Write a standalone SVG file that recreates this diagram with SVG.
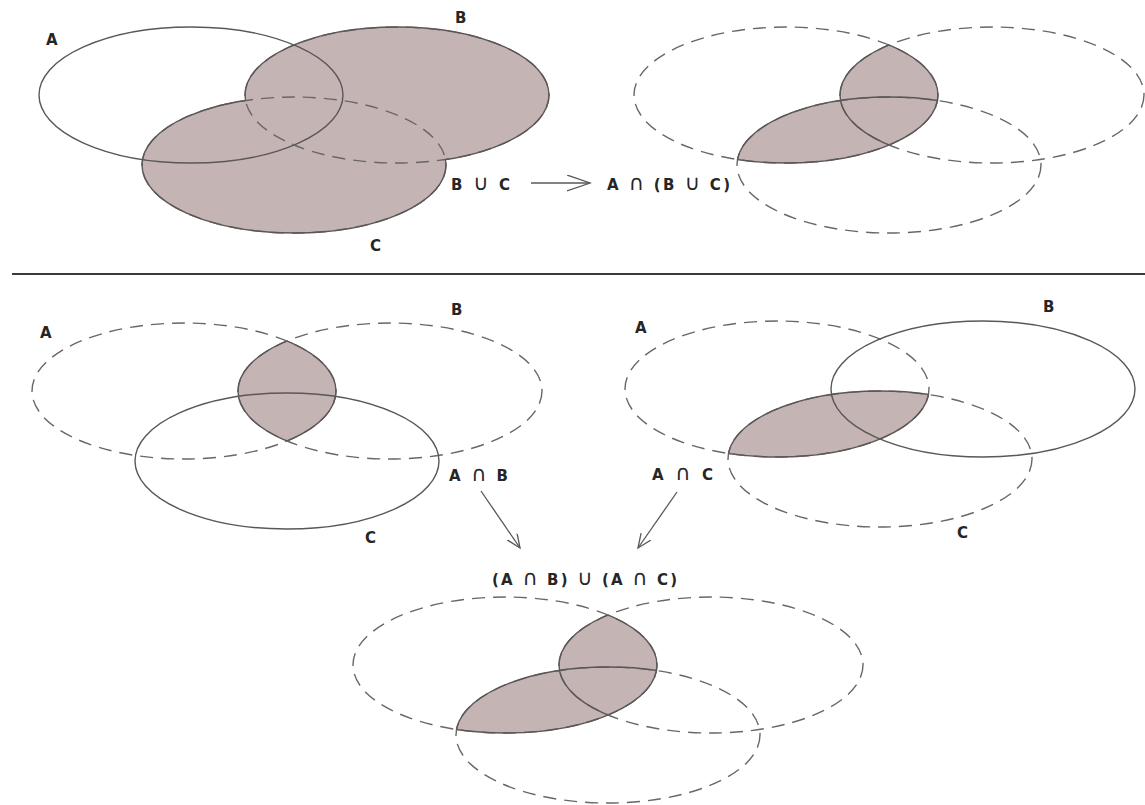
<svg xmlns="http://www.w3.org/2000/svg" xmlns:xlink="http://www.w3.org/1999/xlink" width="1145" height="805" viewBox="0 0 1145 805">
<style>
.solid{fill:none;stroke:#5b5757;stroke-width:1.4}
.dash{fill:none;stroke:#6a6666;stroke-width:1.4;stroke-dasharray:13 8}
.shade{fill:#c4b5b4;stroke:none}
.lbl{font-family:"DejaVu Sans","Liberation Sans",sans-serif;font-size:15px;font-weight:bold;fill:#262626}
.sym{font-size:21px;font-weight:normal}
.conn{fill:none;stroke:#5b5757;stroke-width:1.3}
</style>
<defs>
<ellipse id="A" cx="0" cy="0" rx="152" ry="68"/>
<ellipse id="B" cx="206" cy="0" rx="152" ry="68"/>
<ellipse id="C" cx="103" cy="70" rx="152" ry="68"/>
<clipPath id="cA"><ellipse cx="0" cy="0" rx="152" ry="68"/></clipPath>
<clipPath id="cB"><ellipse cx="206" cy="0" rx="152" ry="68"/></clipPath>
<clipPath id="cC"><ellipse cx="103" cy="70" rx="152" ry="68"/></clipPath>
<clipPath id="cBC"><ellipse cx="206" cy="0" rx="152" ry="68"/><ellipse cx="103" cy="70" rx="152" ry="68"/></clipPath>
<clipPath id="nB"><path clip-rule="evenodd" d="M-300,-200 H600 V300 H-300 Z M54,0 a152,68 0 1,0 304,0 a152,68 0 1,0 -304,0 Z"/></clipPath>
<clipPath id="nC"><path clip-rule="evenodd" d="M-300,-200 H600 V300 H-300 Z M-49,70 a152,68 0 1,0 304,0 a152,68 0 1,0 -304,0 Z"/></clipPath>
<marker id="arrBig" markerUnits="userSpaceOnUse" markerWidth="26" markerHeight="18" refX="23" refY="8" orient="auto"><path d="M0,0 L23,8 L0,16" fill="none" stroke="#5b5757" stroke-width="1.3"/></marker>
<marker id="arr" markerUnits="userSpaceOnUse" markerWidth="18" markerHeight="14" refX="14" refY="6" orient="auto"><path d="M0,0 L14,6 L0,12" fill="none" stroke="#5b5757" stroke-width="1.3"/></marker>
</defs>
<rect x="0" y="0" width="1145" height="805" fill="#ffffff"/>
<line x1="12" y1="274" x2="1145" y2="274" stroke="#3a3a3a" stroke-width="2.2"/>

<g id="venn-union" transform="translate(191,95)">
<use href="#B" class="shade"/><use href="#C" class="shade"/>
<use href="#A" class="solid"/>
<use href="#B" class="dash"/><use href="#B" class="solid" clip-path="url(#nC)"/>
<use href="#C" class="dash"/><use href="#C" class="solid" clip-path="url(#nB)"/>
</g>
<g id="venn-a-int-union" transform="translate(786,95)">
<g clip-path="url(#cA)"><use href="#B" class="shade"/><use href="#C" class="shade"/></g>
<use href="#A" class="dash"/><use href="#A" class="solid" clip-path="url(#cBC)"/>
<use href="#B" class="dash"/><use href="#B" class="solid" clip-path="url(#cA)"/>
<use href="#C" class="dash"/><use href="#C" class="solid" clip-path="url(#cA)"/>
</g>
<g id="venn-a-int-b" transform="translate(184,391)">
<g clip-path="url(#cA)"><use href="#B" class="shade"/></g>
<use href="#A" class="dash"/><use href="#A" class="solid" clip-path="url(#cB)"/>
<use href="#B" class="dash"/><use href="#B" class="solid" clip-path="url(#cA)"/>
<use href="#C" class="solid"/>
</g>
<g id="venn-a-int-c" transform="translate(777,389)">
<g clip-path="url(#cA)"><use href="#C" class="shade"/></g>
<use href="#A" class="dash"/><use href="#A" class="solid" clip-path="url(#cC)"/>
<use href="#C" class="dash"/><use href="#C" class="solid" clip-path="url(#cA)"/>
<use href="#B" class="solid"/>
</g>
<g id="venn-result" transform="translate(505,665)">
<g clip-path="url(#cA)"><use href="#B" class="shade"/><use href="#C" class="shade"/></g>
<use href="#A" class="dash"/><use href="#A" class="solid" clip-path="url(#cBC)"/>
<use href="#B" class="dash"/><use href="#B" class="solid" clip-path="url(#cA)"/>
<use href="#C" class="dash"/><use href="#C" class="solid" clip-path="url(#cA)"/>
</g>

<g id="labels">
<text class="lbl" x="46" y="45">A</text>
<text class="lbl" x="455" y="23">B</text>
<text class="lbl" x="370" y="251">C</text>
<text class="lbl" x="451" y="190" textLength="59" lengthAdjust="spacing">B <tspan class="sym">∪</tspan> C</text>
<text class="lbl" x="607" y="190" textLength="123" lengthAdjust="spacing">A <tspan class="sym">∩</tspan> (B <tspan class="sym">∪</tspan> C)</text>
<text class="lbl" x="40" y="338">A</text>
<text class="lbl" x="451" y="315">B</text>
<text class="lbl" x="365" y="543">C</text>
<text class="lbl" x="449" y="481" textLength="59" lengthAdjust="spacing">A <tspan class="sym">∩</tspan> B</text>
<text class="lbl" x="635" y="333">A</text>
<text class="lbl" x="1043" y="312">B</text>
<text class="lbl" x="957" y="538">C</text>
<text class="lbl" x="652" y="480" textLength="61" lengthAdjust="spacing">A <tspan class="sym">∩</tspan> C</text>
<text class="lbl" x="492" y="585" textLength="185" lengthAdjust="spacing">(A <tspan class="sym">∩</tspan> B) <tspan class="sym">∪</tspan> (A <tspan class="sym">∩</tspan> C)</text>
</g>

<g id="connectors">
<line class="conn" x1="531" y1="183" x2="590" y2="183" marker-end="url(#arrBig)"/>
<line class="conn" x1="481" y1="491" x2="520" y2="548" marker-end="url(#arr)"/>
<line class="conn" x1="677" y1="492" x2="638" y2="548" marker-end="url(#arr)"/>
</g>
</svg>
